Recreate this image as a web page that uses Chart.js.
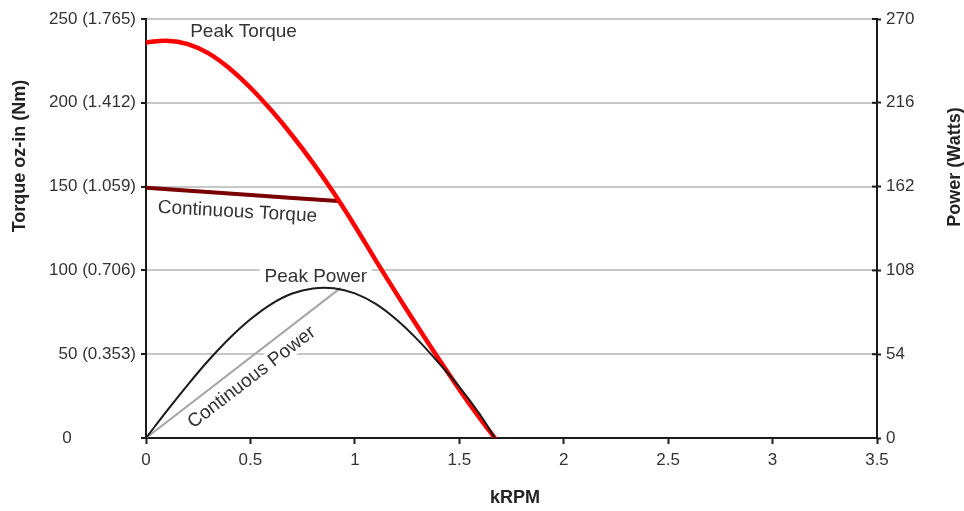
<!DOCTYPE html>
<html>
<head>
<meta charset="utf-8">
<script src="https://cdn.jsdelivr.net/npm/chart.js@4.4.1/dist/chart.umd.min.js"></script>
<style>
  html,body{margin:0;padding:0;background:#fff}
  #c{display:block}
</style>
</head>
<body>
<canvas id="c" width="964" height="511"></canvas>
<script>
/* ─ data ─ */
const peakTorqueRpm = [0,0.1,0.2,0.3,0.4,0.5,0.6,0.7,0.8,0.9,1.0,1.1,1.2,1.3,1.4,1.5,1.6,1.67];
const peakTorque    = [236,237,235,229.5,220.5,209,195.5,180.5,164,146,126.5,106,86,66.5,47.5,29,11.5,0];

const contTorqueRpm = [0,0.45,0.92];
const contTorque    = [149.3,145.4,141.4];

const peakPowerRpm  = [0,0.1,0.2,0.3,0.4,0.5,0.6,0.7,0.8,0.9,1.0,1.1,1.2,1.3,1.4,1.5,1.6,1.67];
const peakPower     = [0,17.5,34.3,50.1,64.3,76.5,86.3,93.1,96.4,96.5,93.2,86.4,76.2,63.4,48.6,33,15,0];

const contPowerRpm  = [0,0.929];
const contPower     = [0,96.4];

const torqueTicks = [0,50,100,150,200,250];
const torqueTickLabels = ['0','50 (0.353)','100 (0.706)','150 (1.059)','200 (1.412)','250 (1.765)'];
const powerTicks  = [0,54,108,162,216,270];

const FONT = "'Liberation Sans', Arial, sans-serif";

/* ─ in-plot notes (kRPM, torque units) ─ */
const notes = [
  {text:'Peak Torque',       k:0.467, t:242.8, rot:0,     bg:false},
  {text:'Continuous Torque', k:0.438, t:135.4, rot:3.2,   bg:false},
  {text:'Peak Power',        k:0.813, t:96.7,  rot:0,     bg:true},
  {text:'Continuous Power',  k:0.503, t:36.6,  rot:-37.5, bg:true},
];

const pts = (xs,ys) => xs.map((x,i)=>({x, y:ys[i]}));

const notesPlugin = {
  id:'notes',
  beforeDatasetsDraw(chart){
    const {ctx, scales:{x, y}} = chart;
    ctx.save();
    ctx.font = `19px ${FONT}`;
    ctx.textAlign = 'center';
    ctx.textBaseline = 'middle';
    notes.forEach(n=>{
      const px = x.getPixelForValue(n.k), py = y.getPixelForValue(n.t);
      ctx.save();
      ctx.translate(px,py);
      ctx.rotate(n.rot*Math.PI/180);
      if(n.bg){
        const w = ctx.measureText(n.text).width;
        ctx.fillStyle = '#fff';
        ctx.fillRect(-w/2-5,-10,w+10,20);
      }
      ctx.fillStyle = '#333';
      ctx.fillText(n.text,0,1);
      ctx.restore();
    });
    ctx.restore();
  },
  afterDraw(chart){
    const {ctx, scales:{y, y1}, chartArea} = chart;
    ctx.save();
    // inner tick marks on the power axis
    ctx.strokeStyle = '#1a1a1a';
    ctx.lineWidth = 2;
    powerTicks.forEach(v=>{
      const py = y1.getPixelForValue(v);
      ctx.beginPath();
      ctx.moveTo(chartArea.right-5,py);
      ctx.lineTo(chartArea.right,py);
      ctx.stroke();
    });
    // lone zero on the torque axis
    ctx.fillStyle = '#333';
    ctx.font = `17px ${FONT}`;
    ctx.textAlign = 'center';
    ctx.textBaseline = 'middle';
    ctx.fillText('0',67,y.getPixelForValue(0));
    // axis titles
    ctx.fillStyle = '#222';
    ctx.font = `bold 18px ${FONT}`;
    ctx.fillText('kRPM',515,498);
    ctx.save();
    ctx.translate(20,156);
    ctx.rotate(-Math.PI/2);
    ctx.fillText('Torque oz-in (Nm)',0,0);
    ctx.restore();
    ctx.save();
    ctx.translate(955.5,167);
    ctx.rotate(-Math.PI/2);
    ctx.fillText('Power (Watts)',0,0);
    ctx.restore();
    ctx.restore();
  }
};

new Chart(document.getElementById('c'),{
  type:'line',
  data:{
    datasets:[
      {label:'Peak Power', data:pts(peakPowerRpm,peakPower), yAxisID:'y1',
       borderColor:'#1a1a1a', borderWidth:2, tension:0.4, order:1},
      {label:'Continuous Power', data:pts(contPowerRpm,contPower), yAxisID:'y1',
       borderColor:'#a6a6a6', borderWidth:2, order:2},
      {label:'Peak Torque', data:pts(peakTorqueRpm,peakTorque), yAxisID:'y',
       borderColor:'#ff0000', borderWidth:4.5, tension:0.4, order:3},
      {label:'Continuous Torque', data:pts(contTorqueRpm,contTorque), yAxisID:'y',
       borderColor:'#7a0000', borderWidth:4, tension:0.3, order:4},
    ]
  },
  options:{
    responsive:false,
    animation:false,
    devicePixelRatio:1,
    elements:{point:{radius:0}, line:{borderCapStyle:'round'}},
    layout:{padding:{top:19,left:0,right:0,bottom:0}},
    plugins:{legend:{display:false}, tooltip:{enabled:false}},
    scales:{
      x:{
        type:'linear', position:'bottom', min:0, max:3.5,
        afterFit:s=>{s.height=73},
        border:{color:'#1a1a1a', width:2},
        grid:{drawOnChartArea:false, tickLength:6, tickColor:'#1a1a1a', tickWidth:2},
        ticks:{stepSize:0.5, padding:6, color:'#333', font:{family:FONT, size:17}, maxRotation:0,
               callback:v=>String(v)}
      },
      y:{
        type:'linear', position:'left', min:0, max:250,
        afterFit:s=>{s.width=146},
        afterBuildTicks:s=>{s.ticks=torqueTicks.map(v=>({value:v}))},
        border:{color:'#1a1a1a', width:2},
        grid:{color:'#c8c8c8', lineWidth:2, tickLength:5, tickColor:'#1a1a1a', tickWidth:2},
        ticks:{padding:5, font:{family:FONT, size:17},
               color:c=>c.tick && c.tick.value===0 ? 'rgba(0,0,0,0)' : '#333',
               callback:v=>torqueTickLabels[torqueTicks.indexOf(v)]}
      },
      y1:{
        type:'linear', position:'right', min:0, max:270,
        afterFit:s=>{s.width=87},
        afterBuildTicks:s=>{s.ticks=powerTicks.map(v=>({value:v}))},
        border:{color:'#1a1a1a', width:2},
        grid:{drawOnChartArea:false, tickLength:4, tickColor:'#1a1a1a', tickWidth:2},
        ticks:{padding:5, color:'#333', font:{family:FONT, size:17}}
      }
    }
  },
  plugins:[notesPlugin]
});
</script>
</body>
</html>
